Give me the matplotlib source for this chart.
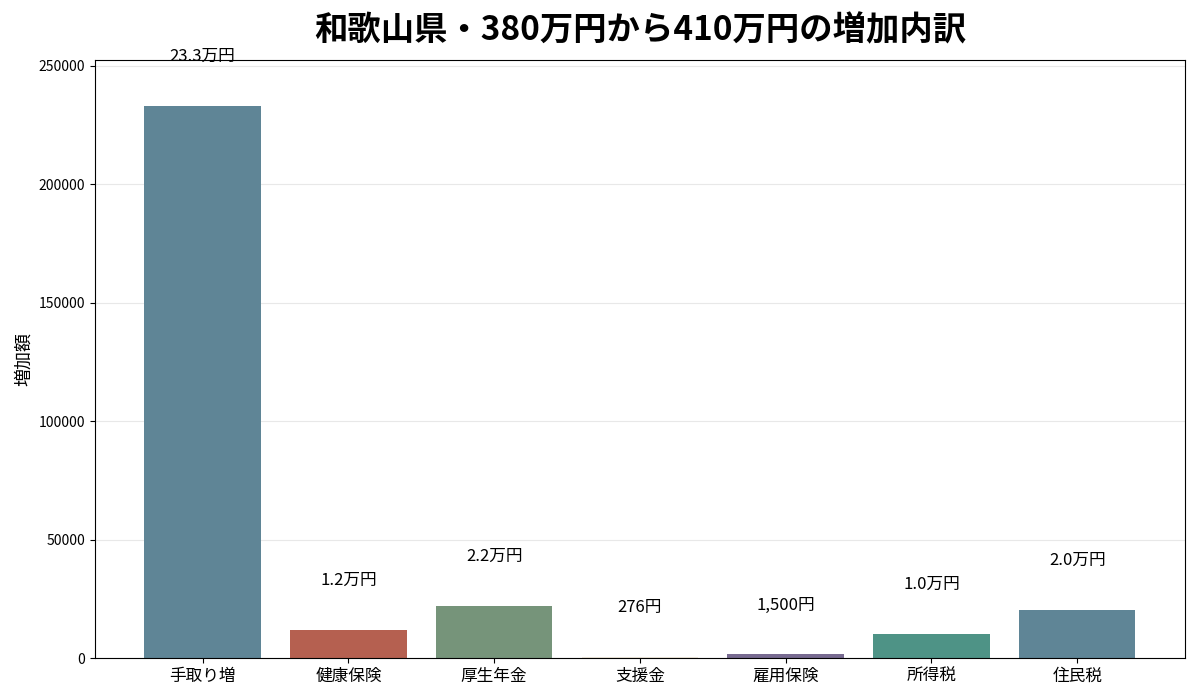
import numpy as np
import matplotlib
matplotlib.use('Agg')
import matplotlib.pyplot as plt

plt.rcParams['font.family'] = ['Noto Sans CJK JP', 'DejaVu Sans']

#%%

categories = ['手取り増', '健康保険', '厚生年金', '支援金', '雇用保険', '所得税', '住民税']
values = [233300, 11800, 22000, 276, 1500, 10100, 20300]
labels = ['23.3万円', '1.2万円', '2.2万円', '276円', '1,500円', '1.0万円', '2.0万円']
colors = ['#5f8596', '#b56050', '#76947a', '#f0e8dc', '#776a90', '#4e9386', '#5f8596']

#%%

fig = plt.figure(figsize=(12, 7), dpi=100)
ax = fig.add_axes([0.079, 0.06, 0.9085, 0.854])

x = np.arange(len(categories))
ax.bar(x, values, width=0.8, color=colors)
offset = max(values) * 0.074
for xi, v, lab in zip(x, values, labels):
    ax.text(xi, v + offset, lab, ha='center', va='bottom', fontsize=12)

ax.set_xticks(x)
ax.set_xticklabels(categories, fontsize=12)
ax.tick_params(axis='y', labelsize=10)
ax.set_ylim(0, max(values) * 1.082)
ax.set_ylabel('増加額', fontsize=13)
ax.yaxis.grid(True, color='#e8e8e8', linewidth=0.8)
ax.set_axisbelow(True)
ax.set_title('和歌山県・380万円から410万円の増加内訳', fontsize=24,
             fontweight='bold', pad=14)

plt.savefig('out.png', dpi=100)
